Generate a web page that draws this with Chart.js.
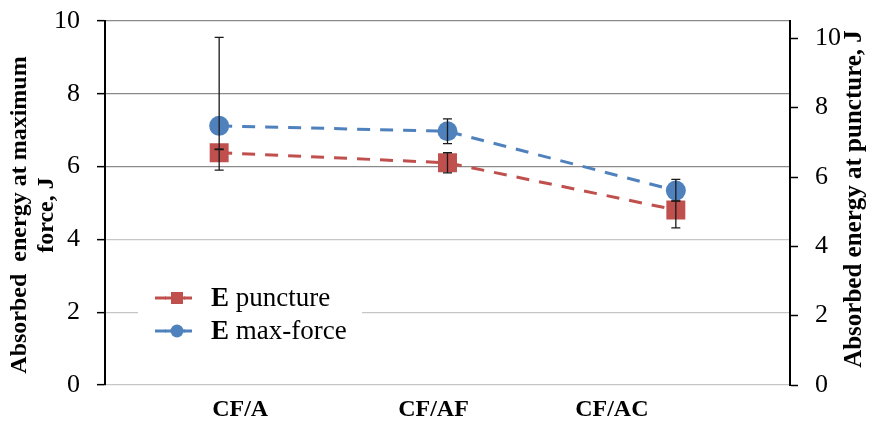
<!DOCTYPE html>
<html>
<head>
<meta charset="utf-8">
<script src="https://cdn.jsdelivr.net/npm/chart.js@4/dist/chart.umd.min.js"></script>
<style>
  html, body { margin: 0; padding: 0; background: #fff; }
  #wrap { width: 870px; height: 425px; position: relative; }
</style>
</head>
<body>
<div id="wrap"><canvas id="chart"></canvas></div>
<script>
const categories = ["CF/A", "CF/AF", "CF/AC"];
const seriesNames = ["E puncture", "E max-force"];

// energy at puncture (right axis)
const puncture = [6.70, 6.41, 5.05];
const punctureErrUp = [0.10, 0.29, 0.26];
const punctureErrDown = [0.50, 0.29, 0.52];

// energy at maximum force (left axis)
const maxForce = [7.12, 6.97, 5.34];
const maxForceErrUp = [2.43, 0.34, 0.31];
const maxForceErrDown = [0.65, 0.34, 0.29];

const leftTicks = [0, 2, 4, 6, 8, 10];
const rightTicks = [0, 2, 4, 6, 8, 10];

const leftTitle = ["Absorbed  energy at maximum", "force, J"];
const rightTitle = "Absorbed energy at puncture, J";

const red = "#C0504D";
const blue = "#4F81BD";
const serif = "'Liberation Serif', 'Times New Roman', serif";

// category labels sit a little off the point positions
const labelNudge = [21, -14, -64];

const errorBars = {
    id: "errorBars",
    afterDatasetsDraw(chart) {
        const c = chart.ctx;
        c.save();
        c.strokeStyle = "#1a1a1a";
        c.lineWidth = 1.3;
        chart.data.datasets.forEach((ds, i) => {
            const scale = chart.scales[ds.yAxisID];
            chart.getDatasetMeta(i).data.forEach((pt, j) => {
                const v = ds.data[j];
                const top = scale.getPixelForValue(v + ds.errUp[j]);
                const bot = scale.getPixelForValue(v - ds.errDown[j]);
                c.beginPath();
                c.moveTo(pt.x, top);
                c.lineTo(pt.x, bot);
                c.moveTo(pt.x - 4.5, top);
                c.lineTo(pt.x + 4.5, top);
                c.moveTo(pt.x - 4.5, bot);
                c.lineTo(pt.x + 4.5, bot);
                c.stroke();
            });
        });
        c.restore();
    },
};

const boxLegend = {
    id: "boxLegend",
    afterDraw(chart) {
        const c = chart.ctx;
        c.save();
        c.fillStyle = "#fff";
        c.fillRect(138, 276, 224, 72);
        const rows = [298, 331];
        chart.data.datasets.forEach((ds, i) => {
            const y = rows[i];
            c.strokeStyle = ds.borderColor;
            c.lineWidth = 3;
            c.beginPath();
            c.moveTo(155, y);
            c.lineTo(166, y);
            c.moveTo(184, y);
            c.lineTo(192, y);
            c.stroke();
            c.fillStyle = ds.backgroundColor;
            if (ds.pointStyle === "rect") {
                c.fillRect(171, y - 6, 12, 12);
            } else {
                c.beginPath();
                c.arc(177, y, 6.5, 0, Math.PI * 2);
                c.fill();
            }
            c.fillRect(165, y - 1.5, 20, 3);
            const [sym, ...rest] = ds.label.split(" ");
            c.fillStyle = "#000";
            c.textBaseline = "middle";
            c.textAlign = "left";
            c.font = "bold 27px " + serif;
            c.fillText(sym, 211, y + 1);
            const w = c.measureText(sym + " ").width;
            c.font = "27px " + serif;
            c.fillText(rest.join(" "), 211 + w, y + 1);
        });
        c.restore();
    },
};

const sideText = {
    id: "sideText",
    afterDraw(chart) {
        const c = chart.ctx;
        const x = chart.scales.x;
        c.save();
        c.fillStyle = "#000";
        c.font = "bold 24px " + serif;
        c.textAlign = "center";
        c.textBaseline = "middle";
        categories.forEach((label, i) => {
            c.fillText(label, x.getPixelForValue(i) + labelNudge[i], 410);
        });

        c.translate(20, 215);
        c.rotate(-Math.PI / 2);
        c.fillText(leftTitle[0], 0, 0);
        c.fillText(leftTitle[1], 0, 27);
        c.restore();

        c.save();
        c.fillStyle = "#000";
        c.font = "bold 25px " + serif;
        c.textAlign = "center";
        c.textBaseline = "middle";
        c.translate(855, 199);
        c.rotate(-Math.PI / 2);
        c.fillText(rightTitle, 0, 0);
        c.restore();
    },
};

// keep the plot box fixed: no extra room for half-height tick labels
const fixedPadding = (scale) => {
    scale.paddingTop = 0;
    scale.paddingBottom = 0;
};

new Chart(document.getElementById("chart"), {
    type: "line",
    data: {
        labels: categories,
        datasets: [
            {
                label: seriesNames[0],
                data: puncture,
                errUp: punctureErrUp,
                errDown: punctureErrDown,
                yAxisID: "y2",
                borderColor: red,
                backgroundColor: red,
                borderWidth: 3,
                borderDash: [13, 10],
                pointStyle: "rect",
                pointRadius: 13.4,
                pointBorderWidth: 0,
            },
            {
                label: seriesNames[1],
                data: maxForce,
                errUp: maxForceErrUp,
                errDown: maxForceErrDown,
                yAxisID: "y",
                borderColor: blue,
                backgroundColor: blue,
                borderWidth: 3,
                borderDash: [13, 10],
                pointStyle: "circle",
                pointRadius: 10,
                pointBorderWidth: 0,
            },
        ],
    },
    options: {
        responsive: true,
        maintainAspectRatio: false,
        animation: false,
        layout: { padding: { top: 21, left: 0, right: 0, bottom: 0 } },
        plugins: {
            legend: { display: false },
            tooltip: { enabled: false },
        },
        scales: {
            x: {
                type: "category",
                offset: true,
                grid: { display: false },
                border: { display: false },
                ticks: { display: false },
                afterFit: (scale) => {
                    scale.height = 40;
                    scale.paddingLeft = 0;
                    scale.paddingRight = 0;
                },
            },
            y: {
                position: "left",
                min: 0,
                max: 10,
                afterBuildTicks: (scale) => { scale.ticks = leftTicks.map((v) => ({ value: v })); },
                afterFit: (scale) => { scale.width = 105; fixedPadding(scale); },
                border: { color: "#000", width: 2 },
                grid: {
                    color: (ctx) => (ctx.tick && ctx.tick.value >= 6 ? "#8a8a8a" : "#c6c6c6"),
                    lineWidth: 1.3,
                    tickColor: "#000",
                    tickWidth: 1.5,
                    tickLength: 8,
                },
                ticks: {
                    color: "#000",
                    padding: 17,
                    font: { family: serif, size: 26 },
                },
            },
            y2: {
                position: "right",
                min: 0,
                max: 10.5,
                afterBuildTicks: (scale) => { scale.ticks = rightTicks.map((v) => ({ value: v })); },
                afterFit: (scale) => { scale.width = 80; fixedPadding(scale); },
                border: { color: "#000", width: 2 },
                grid: {
                    drawOnChartArea: false,
                    tickColor: "#000",
                    tickWidth: 1.5,
                    tickLength: 8,
                },
                ticks: {
                    color: "#000",
                    padding: 17,
                    font: { family: serif, size: 26 },
                },
            },
        },
    },
    plugins: [errorBars, boxLegend, sideText],
});
</script>
</body>
</html>
